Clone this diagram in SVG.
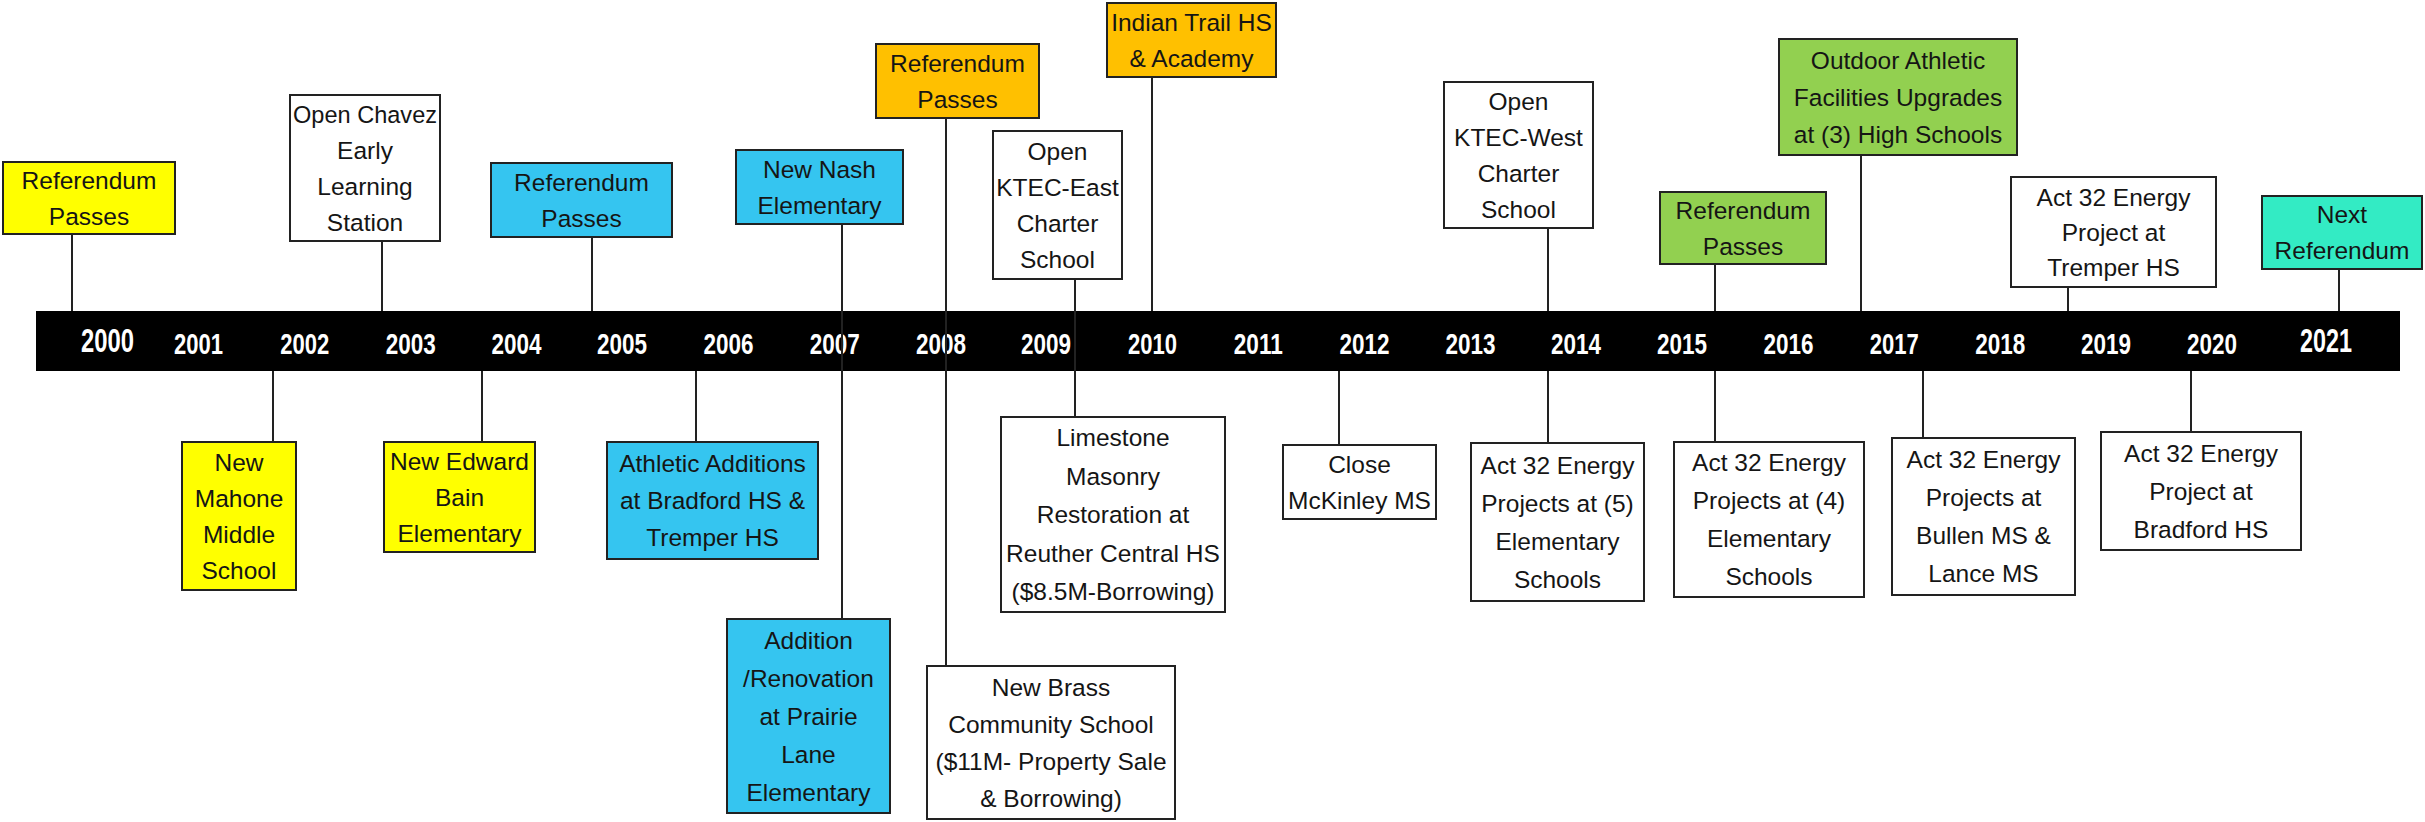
<svg xmlns="http://www.w3.org/2000/svg" width="2425" height="822" viewBox="0 0 2425 822">
<style>
.box{stroke:#222;stroke-width:2}
.w{fill:#ffffff}.y{fill:#ffff00}.b{fill:#35c5f0}.o{fill:#ffc000}.g{fill:#92d050}.t{fill:#33ebc4}
.lbl{font-family:"Liberation Sans",Arial,sans-serif;font-size:24.5px;fill:#151515;text-anchor:middle}
.yr{font-family:"Liberation Sans Narrow","Liberation Sans",Arial,sans-serif;font-weight:bold;font-size:29px;fill:#fff;text-anchor:middle}
.yrb{font-size:33px}
.con{stroke:#222;stroke-width:2;fill:none}
</style>
<rect x="0" y="0" width="2425" height="822" fill="#fff"/>
<g id="timeline">
<rect x="36" y="311" width="2364" height="60" fill="#000"/>
<text class="yr yrb" x="107.5" y="351.7" textLength="53" lengthAdjust="spacingAndGlyphs">2000</text>
<text class="yr" x="198.5" y="354" textLength="49" lengthAdjust="spacingAndGlyphs">2001</text>
<text class="yr" x="304.7" y="354" textLength="49" lengthAdjust="spacingAndGlyphs">2002</text>
<text class="yr" x="410.8" y="354" textLength="50" lengthAdjust="spacingAndGlyphs">2003</text>
<text class="yr" x="516.6" y="354" textLength="50" lengthAdjust="spacingAndGlyphs">2004</text>
<text class="yr" x="622" y="354" textLength="50" lengthAdjust="spacingAndGlyphs">2005</text>
<text class="yr" x="728.5" y="354" textLength="50" lengthAdjust="spacingAndGlyphs">2006</text>
<text class="yr" x="834.7" y="354" textLength="50" lengthAdjust="spacingAndGlyphs">2007</text>
<text class="yr" x="941" y="354" textLength="50" lengthAdjust="spacingAndGlyphs">2008</text>
<text class="yr" x="1046" y="354" textLength="50" lengthAdjust="spacingAndGlyphs">2009</text>
<text class="yr" x="1152.5" y="354" textLength="49" lengthAdjust="spacingAndGlyphs">2010</text>
<text class="yr" x="1258.3" y="354" textLength="49" lengthAdjust="spacingAndGlyphs">2011</text>
<text class="yr" x="1364.5" y="354" textLength="50" lengthAdjust="spacingAndGlyphs">2012</text>
<text class="yr" x="1470.5" y="354" textLength="50" lengthAdjust="spacingAndGlyphs">2013</text>
<text class="yr" x="1576" y="354" textLength="50" lengthAdjust="spacingAndGlyphs">2014</text>
<text class="yr" x="1682" y="354" textLength="50" lengthAdjust="spacingAndGlyphs">2015</text>
<text class="yr" x="1788.6" y="354" textLength="50" lengthAdjust="spacingAndGlyphs">2016</text>
<text class="yr" x="1894.3" y="354" textLength="49" lengthAdjust="spacingAndGlyphs">2017</text>
<text class="yr" x="2000.3" y="354" textLength="50" lengthAdjust="spacingAndGlyphs">2018</text>
<text class="yr" x="2106" y="354" textLength="50" lengthAdjust="spacingAndGlyphs">2019</text>
<text class="yr" x="2212" y="354" textLength="50" lengthAdjust="spacingAndGlyphs">2020</text>
<text class="yr yrb" x="2326" y="351.7" textLength="52" lengthAdjust="spacingAndGlyphs">2021</text>
</g>
<g id="connectors">
<line class="con" x1="72" y1="234" x2="72" y2="311"/>
<line class="con" x1="382" y1="241" x2="382" y2="311"/>
<line class="con" x1="592" y1="237" x2="592" y2="311"/>
<line class="con" x1="842" y1="224" x2="842" y2="619"/>
<line class="con" x1="946" y1="118" x2="946" y2="666"/>
<line class="con" x1="1075" y1="279" x2="1075" y2="417"/>
<line class="con" x1="1152" y1="77" x2="1152" y2="311"/>
<line class="con" x1="1548" y1="228" x2="1548" y2="311"/>
<line class="con" x1="1548" y1="371" x2="1548" y2="443"/>
<line class="con" x1="1715" y1="264" x2="1715" y2="311"/>
<line class="con" x1="1715" y1="371" x2="1715" y2="442"/>
<line class="con" x1="1861" y1="155" x2="1861" y2="311"/>
<line class="con" x1="2068" y1="287" x2="2068" y2="311"/>
<line class="con" x1="2339" y1="269" x2="2339" y2="311"/>
<line class="con" x1="273" y1="371" x2="273" y2="442"/>
<line class="con" x1="482" y1="371" x2="482" y2="442"/>
<line class="con" x1="696" y1="371" x2="696" y2="442"/>
<line class="con" x1="1339" y1="371" x2="1339" y2="445"/>
<line class="con" x1="1923" y1="371" x2="1923" y2="438"/>
<line class="con" x1="2191" y1="371" x2="2191" y2="432"/>
</g>
<g id="n-ref2000"><rect class="box y" x="3" y="162" width="172" height="72"/>
<text class="lbl" x="89" y="188.5">Referendum</text><text class="lbl" x="89" y="224.5">Passes</text></g>
<g id="n-chavez"><rect class="box w" x="290" y="95" width="150" height="146"/>
<text class="lbl" x="365" y="122.5" textLength="144" lengthAdjust="spacingAndGlyphs">Open Chavez</text><text class="lbl" x="365" y="158.5">Early</text><text class="lbl" x="365" y="194.5">Learning</text><text class="lbl" x="365" y="230.5">Station</text></g>
<g id="n-ref2005"><rect class="box b" x="491" y="163" width="181" height="74"/>
<text class="lbl" x="581.5" y="190.5">Referendum</text><text class="lbl" x="581.5" y="226.5">Passes</text></g>
<g id="n-nash"><rect class="box b" x="736" y="150" width="167" height="74"/>
<text class="lbl" x="819.5" y="177.5">New Nash</text><text class="lbl" x="819.5" y="213.5">Elementary</text></g>
<g id="n-ref2008"><rect class="box o" x="876" y="44" width="163" height="74"/>
<text class="lbl" x="957.5" y="71.5">Referendum</text><text class="lbl" x="957.5" y="107.5">Passes</text></g>
<g id="n-ktec-east"><rect class="box w" x="993" y="131" width="129" height="148"/>
<text class="lbl" x="1057.5" y="159.5">Open</text><text class="lbl" x="1057.5" y="195.5">KTEC-East</text><text class="lbl" x="1057.5" y="231.5">Charter</text><text class="lbl" x="1057.5" y="267.5">School</text></g>
<g id="n-indian-trail"><rect class="box o" x="1107" y="3" width="169" height="74"/>
<text class="lbl" x="1191.5" y="30.5">Indian Trail HS</text><text class="lbl" x="1191.5" y="66.5">&amp; Academy</text></g>
<g id="n-ktec-west"><rect class="box w" x="1444" y="82" width="149" height="146"/>
<text class="lbl" x="1518.5" y="109.5">Open</text><text class="lbl" x="1518.5" y="145.5">KTEC-West</text><text class="lbl" x="1518.5" y="181.5">Charter</text><text class="lbl" x="1518.5" y="217.5">School</text></g>
<g id="n-ref2015"><rect class="box g" x="1660" y="192" width="166" height="72"/>
<text class="lbl" x="1743" y="218.5">Referendum</text><text class="lbl" x="1743" y="254.5">Passes</text></g>
<g id="n-outdoor"><rect class="box g" x="1779" y="39" width="238" height="116"/>
<text class="lbl" x="1898" y="68.5">Outdoor Athletic</text><text class="lbl" x="1898" y="105.5">Facilities Upgrades</text><text class="lbl" x="1898" y="142.5">at (3) High Schools</text></g>
<g id="n-tremper"><rect class="box w" x="2011" y="177" width="205" height="110"/>
<text class="lbl" x="2113.5" y="205.5">Act 32 Energy</text><text class="lbl" x="2113.5" y="240.5">Project at</text><text class="lbl" x="2113.5" y="275.5">Tremper HS</text></g>
<g id="n-next-ref"><rect class="box t" x="2262" y="196" width="160" height="73"/>
<text class="lbl" x="2342" y="223">Next</text><text class="lbl" x="2342" y="259">Referendum</text></g>
<g id="n-mahone"><rect class="box y" x="182" y="442" width="114" height="148"/>
<text class="lbl" x="239" y="470.5">New</text><text class="lbl" x="239" y="506.5">Mahone</text><text class="lbl" x="239" y="542.5">Middle</text><text class="lbl" x="239" y="578.5">School</text></g>
<g id="n-bain"><rect class="box y" x="384" y="442" width="151" height="110"/>
<text class="lbl" x="459.5" y="469.5">New Edward</text><text class="lbl" x="459.5" y="505.5">Bain</text><text class="lbl" x="459.5" y="541.5">Elementary</text></g>
<g id="n-athletic"><rect class="box b" x="607" y="442" width="211" height="117"/>
<text class="lbl" x="712.5" y="472">Athletic Additions</text><text class="lbl" x="712.5" y="509">at Bradford HS &amp;</text><text class="lbl" x="712.5" y="546">Tremper HS</text></g>
<g id="n-prairie"><rect class="box b" x="727" y="619" width="163" height="194"/>
<text class="lbl" x="808.5" y="648.5">Addition</text><text class="lbl" x="808.5" y="686.5">/Renovation</text><text class="lbl" x="808.5" y="724.5">at Prairie</text><text class="lbl" x="808.5" y="762.5">Lane</text><text class="lbl" x="808.5" y="800.5">Elementary</text></g>
<g id="n-limestone"><rect class="box w" x="1001" y="417" width="224" height="195"/>
<text class="lbl" x="1113" y="446">Limestone</text><text class="lbl" x="1113" y="484.5">Masonry</text><text class="lbl" x="1113" y="523">Restoration at</text><text class="lbl" x="1113" y="561.5">Reuther Central HS</text><text class="lbl" x="1113" y="600">($8.5M-Borrowing)</text></g>
<g id="n-brass"><rect class="box w" x="927" y="666" width="248" height="153"/>
<text class="lbl" x="1051" y="695.5">New Brass</text><text class="lbl" x="1051" y="732.5">Community School</text><text class="lbl" x="1051" y="769.5">($11M- Property Sale</text><text class="lbl" x="1051" y="806.5">&amp; Borrowing)</text></g>
<g id="n-mckinley"><rect class="box w" x="1283" y="445" width="153" height="74"/>
<text class="lbl" x="1359.5" y="472.5">Close</text><text class="lbl" x="1359.5" y="508.5">McKinley MS</text></g>
<g id="n-act5"><rect class="box w" x="1471" y="443" width="173" height="158"/>
<text class="lbl" x="1557.5" y="473.5">Act 32 Energy</text><text class="lbl" x="1557.5" y="511.5">Projects at (5)</text><text class="lbl" x="1557.5" y="549.5">Elementary</text><text class="lbl" x="1557.5" y="587.5">Schools</text></g>
<g id="n-act4"><rect class="box w" x="1674" y="442" width="190" height="155"/>
<text class="lbl" x="1769" y="471">Act 32 Energy</text><text class="lbl" x="1769" y="509">Projects at (4)</text><text class="lbl" x="1769" y="547">Elementary</text><text class="lbl" x="1769" y="585">Schools</text></g>
<g id="n-bullen"><rect class="box w" x="1892" y="438" width="183" height="157"/>
<text class="lbl" x="1983.5" y="468">Act 32 Energy</text><text class="lbl" x="1983.5" y="506">Projects at</text><text class="lbl" x="1983.5" y="544">Bullen MS &amp;</text><text class="lbl" x="1983.5" y="582">Lance MS</text></g>
<g id="n-bradford"><rect class="box w" x="2101" y="432" width="200" height="118"/>
<text class="lbl" x="2201" y="461.5">Act 32 Energy</text><text class="lbl" x="2201" y="499.5">Project at</text><text class="lbl" x="2201" y="537.5">Bradford HS</text></g>
</svg>
